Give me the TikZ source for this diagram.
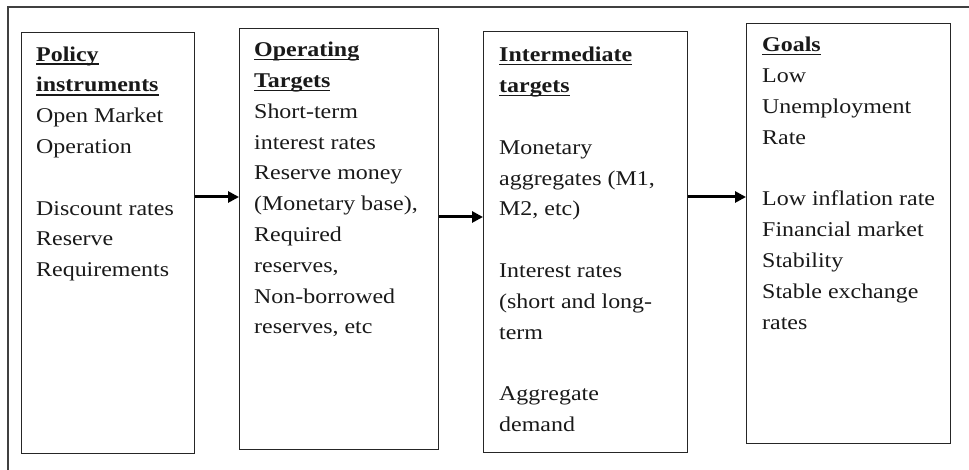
\documentclass[tikz,border=0pt]{standalone}
\usepackage{fontspec}
\setmainfont{Liberation Serif}[FakeStretch=1.14]
\usetikzlibrary{arrows.meta}
\newsavebox{\hdbox}
\newcommand{\hdul}[1]{\sbox{\hdbox}{\bfseries #1}\rlap{\rule[-3.6pt]{\wd\hdbox}{1.4pt}}\usebox{\hdbox}}
\tikzset{
  panel/.style={draw=black!85, line width=1.3pt, anchor=north west, inner sep=0pt},
  paneltext/.style={anchor=north west, inner sep=0pt, align=left,
    font=\fontsize{21}{30.8}\selectfont, text=black!90},
  arr/.style={line width=3pt, -{Triangle[length=11pt,width=11pt]}},
  frame/.style={draw=black!75, line width=1.2pt}
}
\begin{document}
\begin{tikzpicture}[x=1pt,y=-1pt]
\useasboundingbox (0,0) rectangle (969,470);
\draw[frame] (8,470) -- (8,7) -- (969,7);
% boxes
\node[panel, minimum width=173pt, minimum height=421pt] (b1) at (21,32) {};
\node[panel, minimum width=199pt, minimum height=421pt] (b2) at (239,28) {};
\node[panel, minimum width=204pt, minimum height=421pt] (b3) at (483,31) {};
\node[panel, minimum width=204pt, minimum height=420pt] (b4) at (746,23) {};
% texts
\node[paneltext] (t1) at (36,39.4) {\strut\hdul{Policy}\\ \hdul{instruments}\\ Open Market\\ Operation\\[30.8pt] Discount rates\\ Reserve\\ Requirements};
\node[paneltext] (t2) at (254,34.9) {\strut\hdul{Operating}\\ \hdul{Targets}\\ Short-term\\ interest rates\\ Reserve money\\ (Monetary base),\\ Required\\ reserves,\\ Non-borrowed\\ reserves, etc};
\node[paneltext] (t3) at (499,40.1) {\strut\hdul{Intermediate}\\ \hdul{targets}\\[30.8pt] Monetary\\ aggregates (M1,\\ M2, etc)\\[30.8pt] Interest rates\\ (short and long-\\ term\\[30.8pt] Aggregate\\ demand};
\node[paneltext] (t4) at (762,30.1) {\strut\hdul{Goals}\\ Low\\ Unemployment\\ Rate\\[30.8pt] Low inflation rate\\ Financial market\\ Stability\\ Stable exchange\\ rates};
% arrows
\draw[arr] (b1.east |- 0,197) -- (b2.west |- 0,197);
\draw[arr] (b2.east |- 0,217) -- (b3.west |- 0,217);
\draw[arr] (b3.east |- 0,197) -- (b4.west |- 0,197);
\end{tikzpicture}
\end{document}
